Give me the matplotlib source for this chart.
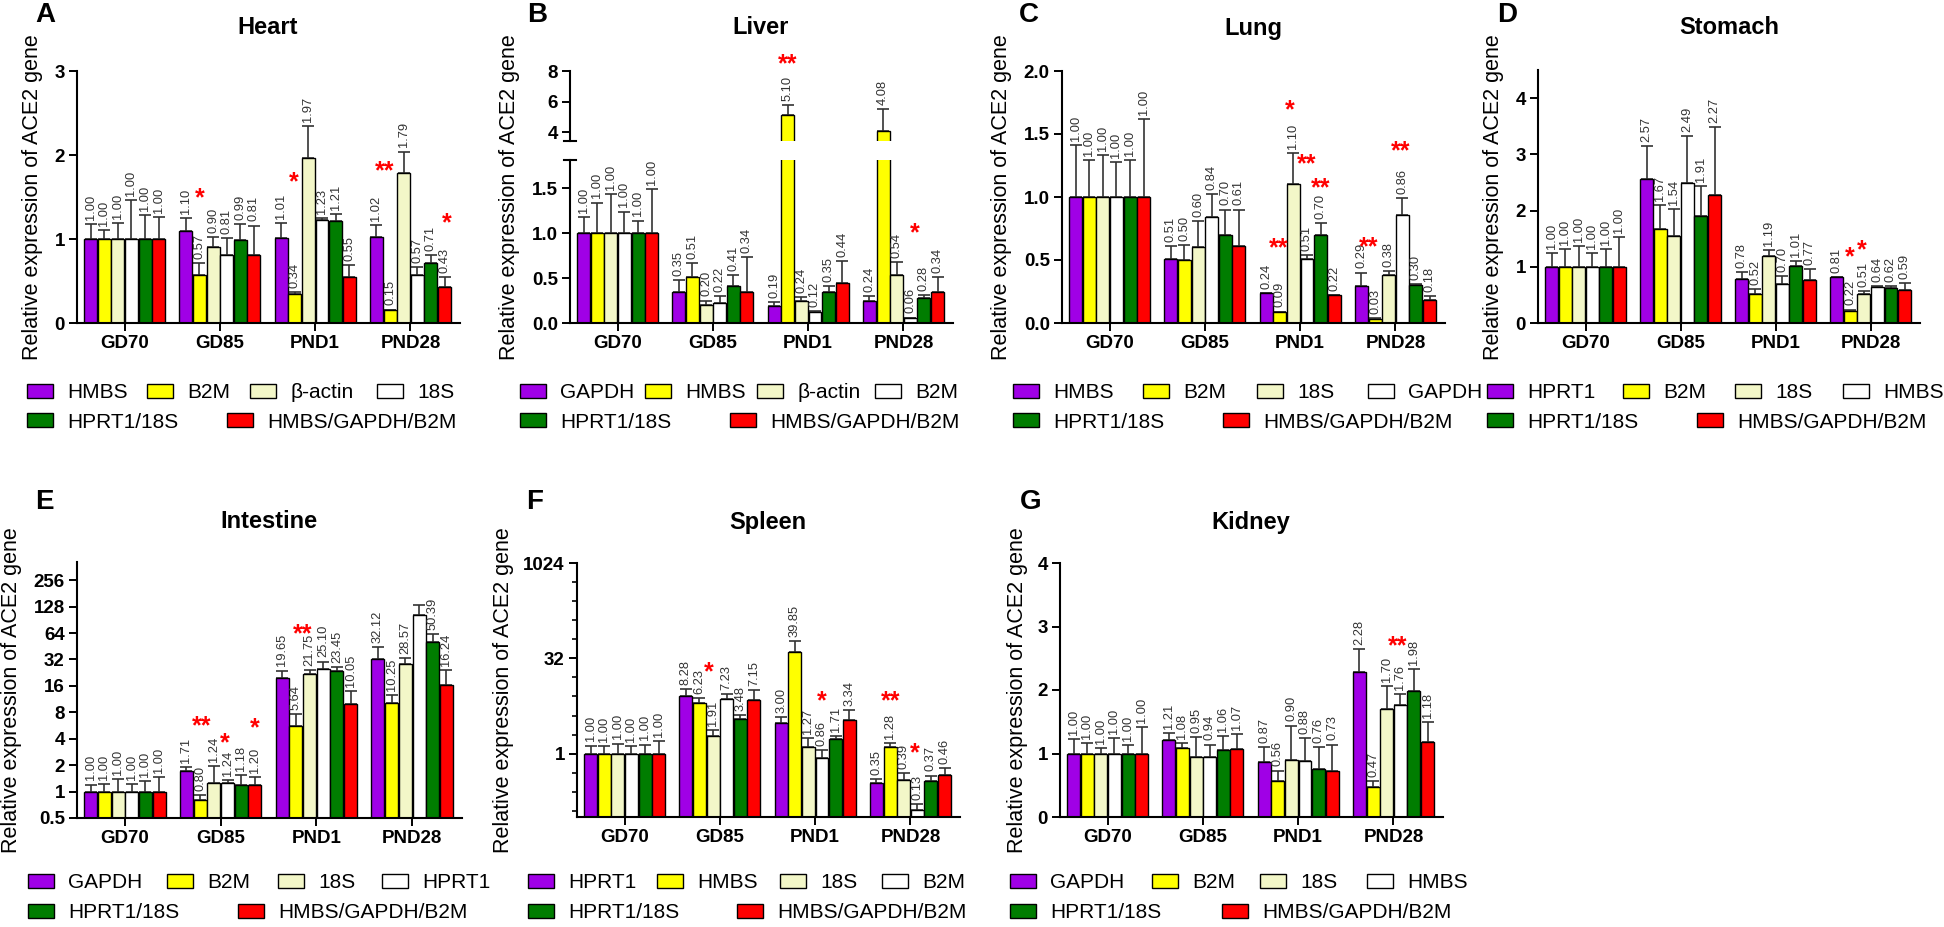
import numpy as np
import matplotlib
matplotlib.use('Agg')
import matplotlib.pyplot as plt
import matplotlib.ticker as mticker

plt.rcParams['font.family'] = ['Liberation Sans', 'DejaVu Sans']

timepoints = ['GD70', 'GD85', 'PND1', 'PND28']
colors = ['#A000E6', '#FFFF00', '#F3F7C8', '#FFFFFF', '#007D00', '#FF0000']

# ---- data: rows = reference gene(s), columns = timepoints ----
heart_genes = ['HMBS', 'B2M', 'β-actin', '18S', 'HPRT1/18S', 'HMBS/GAPDH/B2M']
heart_mean = [[1.00, 1.10, 1.01, 1.02], [1.00, 0.57, 0.34, 0.15], [1.00, 0.90, 1.97, 1.79],
              [1.00, 0.81, 1.23, 0.57], [1.00, 0.99, 1.21, 0.71], [1.00, 0.81, 0.55, 0.43]]
heart_se = [[0.18, 0.15, 0.18, 0.15], [0.11, 0.14, 0.03, 0.01], [0.19, 0.12, 0.37, 0.25],
            [0.46, 0.20, 0.02, 0.10], [0.28, 0.19, 0.09, 0.10], [0.26, 0.35, 0.14, 0.12]]
heart_stars = [(1, 1.0, 1.58, '*'), (2, 0.9, 1.76, '*'), (3, 0.6, 1.90, '**'), (3, 5.2, 1.28, '*')]

liver_genes = ['GAPDH', 'HMBS', 'β-actin', 'B2M', 'HPRT1/18S', 'HMBS/GAPDH/B2M']
liver_mean = [[1.00, 0.35, 0.19, 0.24], [1.00, 0.51, 5.10, 4.08], [1.00, 0.20, 0.24, 0.54],
              [1.00, 0.22, 0.12, 0.06], [1.00, 0.41, 0.35, 0.28], [1.00, 0.34, 0.44, 0.34]]
liver_se = [[0.18, 0.13, 0.04, 0.06], [0.34, 0.16, 0.67, 1.44], [0.44, 0.05, 0.045, 0.14],
            [0.24, 0.08, 0.01, 0.00], [0.14, 0.12, 0.06, 0.03], [0.49, 0.39, 0.245, 0.17]]
liver_stars_up = [(2, 1.0, 8.92, '**')]
liver_stars_low = [(3, 3.3, 1.08, '*')]

lung_genes = ['HMBS', 'B2M', '18S', 'GAPDH', 'HPRT1/18S', 'HMBS/GAPDH/B2M']
lung_mean = [[1.00, 0.51, 0.24, 0.29], [1.00, 0.50, 0.09, 0.03], [1.00, 0.60, 1.10, 0.38],
             [1.00, 0.84, 0.51, 0.86], [1.00, 0.70, 0.70, 0.30], [1.00, 0.61, 0.22, 0.18]]
lung_se = [[0.41, 0.10, 0.00, 0.11], [0.29, 0.12, 0.00, 0.01], [0.33, 0.21, 0.25, 0.035],
           [0.28, 0.18, 0.03, 0.13], [0.29, 0.20, 0.09, 0.01], [0.62, 0.29, 0.00, 0.035]]
lung_stars = [(2, 1.7, 1.75, '*'), (2, 3.0, 1.32, '**'), (2, 4.0, 1.13, '**'), (2, 0.95, 0.655, '**'),
              (3, 0.55, 0.66, '**'), (3, 2.85, 1.42, '**')]

stomach_genes = ['HPRT1', 'B2M', '18S', 'HMBS', 'HPRT1/18S', 'HMBS/GAPDH/B2M']
stomach_mean = [[1.00, 2.57, 0.78, 0.81], [1.00, 1.67, 0.52, 0.22], [1.00, 1.54, 1.19, 0.51],
                [1.00, 2.49, 0.70, 0.64], [1.00, 1.91, 1.01, 0.62], [1.00, 2.27, 0.77, 0.59]]
stomach_se = [[0.24, 0.58, 0.12, 0.01], [0.32, 0.42, 0.08, 0.02], [0.37, 0.49, 0.10, 0.065],
              [0.24, 0.84, 0.13, 0.02], [0.32, 0.52, 0.09, 0.04], [0.53, 1.21, 0.19, 0.12]]
stomach_stars = [(3, 1.0, 1.30, '*'), (3, 1.85, 1.43, '*')]

intestine_genes = ['GAPDH', 'B2M', '18S', 'HPRT1', 'HPRT1/18S', 'HMBS/GAPDH/B2M']
intestine_mean = [[1.00, 1.71, 19.65, 32.12], [1.00, 0.80, 5.64, 10.25], [1.00, 1.24, 21.75, 28.57],
                  [1.00, 1.24, 25.10, 102.0], [1.00, 1.18, 23.45, 50.39], [1.00, 1.20, 10.05, 16.24]]
intestine_se = [[0.20, 0.19, 4.25, 11.9], [0.23, 0.12, 2.06, 2.35], [0.40, 0.70, 2.55, 4.43],
                [0.23, 0.12, 5.20, 31.0], [0.31, 0.37, 2.65, 11.5], [0.45, 0.26, 3.95, 8.06]]
intestine_stars = [(1, 1.1, 6.68, '**'), (1, 2.8, 4.32, '*'), (1, 5.0, 6.45, '*'), (2, 1.5, 75.6, '**')]
intestine_nolabel = [(3, 3)]

spleen_genes = ['HPRT1', 'HMBS', '18S', 'B2M', 'HPRT1/18S', 'HMBS/GAPDH/B2M']
spleen_mean = [[1.00, 8.28, 3.00, 0.35], [1.00, 6.23, 39.85, 1.28], [1.00, 1.91, 1.27, 0.39],
               [1.00, 7.23, 0.86, 0.13], [1.00, 3.48, 1.71, 0.37], [1.00, 7.15, 3.34, 0.46]]
spleen_se = [[0.34, 2.10, 0.77, 0.05], [0.30, 1.27, 19.9, 0.19], [0.44, 0.42, 0.49, 0.11],
             [0.30, 1.57, 0.27, 0.03], [0.39, 0.62, 0.21, 0.08], [0.56, 3.05, 1.59, 0.13]]
spleen_stars = [(1, 1.7, 25.1, '*'), (2, 3.0, 8.8, '*'), (3, 1.05, 8.8, '**'), (3, 2.8, 1.34, '*')]

kidney_genes = ['GAPDH', 'B2M', '18S', 'HMBS', 'HPRT1/18S', 'HMBS/GAPDH/B2M']
kidney_mean = [[1.00, 1.21, 0.87, 2.28], [1.00, 1.08, 0.56, 0.47], [1.00, 0.95, 0.90, 1.70],
               [1.00, 0.94, 0.88, 1.76], [1.00, 1.06, 0.76, 1.98], [1.00, 1.07, 0.73, 1.18]]
kidney_se = [[0.23, 0.11, 0.23, 0.37], [0.17, 0.09, 0.17, 0.09], [0.09, 0.31, 0.54, 0.36],
             [0.24, 0.20, 0.36, 0.18], [0.13, 0.22, 0.34, 0.35], [0.42, 0.23, 0.41, 0.32]]
kidney_stars = [(3, 2.8, 2.80, '**')]

W, H = 1944, 927
fig = plt.figure(figsize=(W / 100, H / 100), dpi=100)

STEP = 0.143
WIDTH = 0.136


def px_rect(l, t, r, b):
    return [l / W, 1 - b / H, (r - l) / W, (b - t) / H]


def style(ax, bottom=True):
    for s in ['top', 'right']:
        ax.spines[s].set_visible(False)
    ax.spines['left'].set_linewidth(1.5)
    ax.spines['bottom'].set_linewidth(1.5)
    ax.tick_params(direction='out', length=5.8, width=1.4, labelsize=13.5, pad=3)
    ax.set_xlim(-0.5, 3.52)
    if bottom:
        ax.set_xticks(range(4), timepoints, fontweight='bold')
    else:
        ax.spines['bottom'].set_visible(False)
        ax.set_xticks([])


def draw_bars(ax, mean, se):
    x = np.arange(4)
    handles = []
    for i in range(6):
        pos = x + (i - 2.5) * STEP
        b = ax.bar(pos, mean[i], WIDTH, color=colors[i], edgecolor='black', linewidth=1, zorder=2)
        ax.errorbar(pos, mean[i], yerr=[np.zeros(4), se[i]], fmt='none', ecolor='#333333',
                    elinewidth=1.2, capsize=4, capthick=1.2, zorder=1.5)
        handles.append(b)
    return handles


def value_labels(ax, mean, se, skip=()):
    for i in range(6):
        for g in range(4):
            if (g, i) in skip:
                continue
            ax.annotate(f'{mean[i][g]:.2f}', (g + (i - 2.5) * STEP, mean[i][g] + se[i][g]),
                        xytext=(0, 3), textcoords='offset points', rotation=90,
                        ha='center', va='bottom', fontsize=9.3, color='#333333')


def add_stars(ax, stars):
    for g, k, y, txt in stars:
        ax.annotate(txt, (g + (k - 2.5) * STEP, y), xytext=(0, -10.5), textcoords='offset points',
                    ha='center', va='baseline', color='red', fontsize=18, fontweight='bold',
                    annotation_clip=False)


def add_legend(handles, labels, xs, x_red, y1, y2):
    spots = [(xs[0], y1), (xs[1], y1), (xs[2], y1), (xs[3], y1), (xs[0], y2), (x_red, y2)]
    for h, lab, (x, y) in zip(handles, labels, spots):
        fig.legend([h], [lab], loc='center left', bbox_to_anchor=(x / W, 1 - y / H), frameon=False,
                   fontsize=15, handlelength=1.27, handleheight=0.62, handletextpad=0.65,
                   borderpad=0, borderaxespad=0)


def decorate(letter, lx, ly, title, tx, ty, ylx, yly):
    fig.text(lx / W, 1 - ly / H, letter, fontsize=20, fontweight='bold', ha='center', va='center')
    fig.text(tx / W, 1 - ty / H, title, fontsize=17, fontweight='bold', ha='center', va='center')
    fig.text(ylx / W, 1 - yly / H, 'Relative expression of ACE2 gene', fontsize=15.5,
             rotation=90, ha='center', va='center')


def simple_panel(rect, mean, se, stars, ylim, yticks, yticklabels, log=False, skip=()):
    ax = fig.add_axes(px_rect(*rect))
    if log:
        ax.set_yscale('log', base=2)
    handles = draw_bars(ax, mean, se)
    value_labels(ax, mean, se, skip)
    add_stars(ax, stars)
    style(ax)
    ax.set_ylim(*ylim)
    ax.set_yticks(yticks, yticklabels, fontweight='bold')
    return ax, handles


# ---- A: Heart ----
ax, h = simple_panel((77, 71, 460, 323), heart_mean, heart_se, heart_stars, (0, 3), [0, 1, 2, 3],
                     ['0', '1', '2', '3'])
decorate('A', 45, 15, 'Heart', 268, 28, 33, 197)
add_legend(h, heart_genes, [27, 147, 250, 377], 227, 393, 422)

# ---- B: Liver (broken axis) ----
ax_up = fig.add_axes(px_rect(570, 71, 953, 141))
ax_lo = fig.add_axes(px_rect(570, 160, 953, 323))
h = draw_bars(ax_lo, liver_mean, liver_se)
draw_bars(ax_up, liver_mean, liver_se)
value_labels(ax_lo, liver_mean, liver_se)
value_labels(ax_up, liver_mean, liver_se)
add_stars(ax_lo, liver_stars_low)
add_stars(ax_up, liver_stars_up)
style(ax_lo)
style(ax_up, bottom=False)
ax_lo.set_ylim(0, 1.815)
ax_lo.set_yticks([0, 0.5, 1.0, 1.5], ['0.0', '0.5', '1.0', '1.5'], fontweight='bold')
ax_up.set_ylim(3.41, 8)
ax_up.set_yticks([4, 6, 8], ['4', '6', '8'], fontweight='bold')
d = 6 / 383
ax_up.plot([-d, d], [0, 0], transform=ax_up.transAxes, color='black', lw=1.5, clip_on=False)
ax_lo.plot([-d, d], [1, 1], transform=ax_lo.transAxes, color='black', lw=1.5, clip_on=False)
decorate('B', 537, 15, 'Liver', 761, 28, 510, 197)
add_legend(h, liver_genes, [520, 645, 757, 875], 730, 393, 422)

# ---- C: Lung ----
ax, h = simple_panel((1062, 71, 1445, 323), lung_mean, lung_se, lung_stars, (0, 2.0),
                     [0, 0.5, 1.0, 1.5, 2.0], ['0.0', '0.5', '1.0', '1.5', '2.0'])
decorate('C', 1029, 15, 'Lung', 1253, 28, 1002, 197)
add_legend(h, lung_genes, [1013, 1143, 1257, 1368], 1223, 393, 422)

# ---- D: Stomach ----
ax, h = simple_panel((1538, 70, 1920, 323), stomach_mean, stomach_se, stomach_stars, (0, 4.5),
                     [0, 1, 2, 3, 4], ['0', '1', '2', '3', '4'])
decorate('D', 1507, 15, 'Stomach', 1729, 28, 1493, 197)
add_legend(h, stomach_genes, [1487, 1623, 1735, 1843], 1697, 393, 422)

# ---- E: Intestine (log2) ----
e_ticks = [0.5, 1, 2, 4, 8, 16, 32, 64, 128, 256]
ax, h = simple_panel((77, 562, 462, 818), intestine_mean, intestine_se, intestine_stars, (0.5, 413),
                     e_ticks, ['0.5'] + [str(int(t)) for t in e_ticks[1:]], log=True,
                     skip=intestine_nolabel)
ax.yaxis.set_minor_locator(mticker.NullLocator())
decorate('E', 44, 502, 'Intestine', 269, 522, 12, 690)
add_legend(h, intestine_genes, [28, 167, 278, 382], 238, 883, 913)

# ---- F: Spleen (log2) ----
ax, h = simple_panel((577, 563, 960, 817), spleen_mean, spleen_se, spleen_stars, (0.1, 1024),
                     [1, 32, 1024], ['1', '32', '1024'], log=True)
ax.yaxis.set_minor_locator(mticker.FixedLocator([2.0 ** k for k in range(-3, 10) if k not in (0, 5)]))
ax.yaxis.set_minor_formatter(mticker.NullFormatter())
ax.tick_params(axis='y', which='minor', length=3.6, width=1.2)
decorate('F', 535, 502, 'Spleen', 768, 522, 503, 690)
add_legend(h, spleen_genes, [528, 657, 780, 882], 737, 883, 913)

# ---- G: Kidney ----
ax, h = simple_panel((1060, 563, 1443, 817), kidney_mean, kidney_se, kidney_stars, (0, 4),
                     [0, 1, 2, 3, 4], ['0', '1', '2', '3', '4'])
decorate('G', 1031, 502, 'Kidney', 1251, 522, 1017, 690)
add_legend(h, kidney_genes, [1010, 1152, 1260, 1367], 1222, 883, 913)

fig.savefig('out.png', dpi=100)
